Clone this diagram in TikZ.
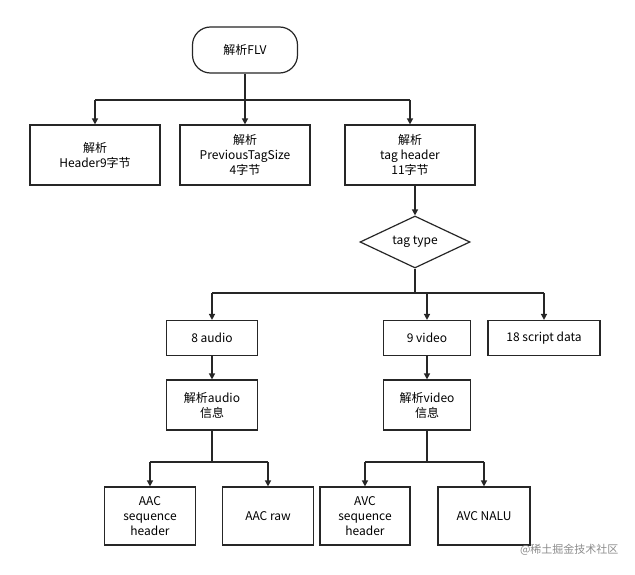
\documentclass[tikz,border=0pt]{standalone}
\usepackage{fontspec}
\setmainfont{Noto Sans CJK SC}
\usetikzlibrary{shapes.geometric,arrows.meta}
\begin{document}
\begin{tikzpicture}[x=1pt,y=-1pt,
  box/.style={draw=black!85,line width=1.2pt,fill=white,align=center,font=\fontsize{12}{15}\selectfont,inner sep=0pt},
  ln/.style={draw=black!85,line width=1.6pt},
  ar/.style={ln,-{Triangle[length=6pt,width=6pt]}}]
\useasboundingbox (0,0) rectangle (635,575);
\node[box,rounded corners=18pt,minimum width=105pt,minimum height=46pt] (flv) at (245,50) {解析FLV};
\node[box,minimum width=130pt,minimum height=60pt] (h) at (95,155) {解析\\Header9字节};
\node[box,minimum width=130pt,minimum height=60pt] (p) at (245,155) {解析\\PreviousTagSize\\4字节};
\node[box,minimum width=130pt,minimum height=60pt] (t) at (410,155) {解析\\tag header\\11字节};
\node[box,diamond,aspect=2.1,minimum width=110pt,minimum height=52pt] (d) at (415,242) {tag type};
\node[box,minimum width=91pt,minimum height=35pt] (a) at (212,338) {8 audio};
\node[box,minimum width=87pt,minimum height=35pt] (v) at (427,338) {9 video};
\node[box,minimum width=112pt,minimum height=35pt] (s) at (544,338) {18 script data};
\node[box,minimum width=91pt,minimum height=50pt] (ai) at (212,405) {解析audio\\信息};
\node[box,minimum width=87pt,minimum height=50pt] (vi) at (427,405) {解析video\\信息};
\node[box,minimum width=91pt,minimum height=58pt] (as) at (150,516) {AAC\\sequence\\header};
\node[box,minimum width=91pt,minimum height=58pt] (ar) at (268,516) {AAC raw};
\node[box,minimum width=90pt,minimum height=58pt] (vs) at (365,516) {AVC\\sequence\\header};
\node[box,minimum width=92pt,minimum height=58pt] (vn) at (484,516) {AVC NALU};
\node[text=black!45,font=\fontsize{11}{13}\selectfont,anchor=east] (wm) at (622,550) {@稀土掘金技术社区};
\coordinate (j1) at (245,100);
\coordinate (j2) at (415,293);
\coordinate (j3) at (212,462);
\coordinate (j4) at (427,462);
\draw[ln] (flv.south) -- (j1);
\draw[ln] (h.north|-j1) -- (t.north|-j1);
\draw[ar] (h.north|-j1) -- (h.north);
\draw[ar] (j1) -- (p.north);
\draw[ar] (t.north|-j1) -- (t.north);
\draw[ar] (t.south-|d.north) -- (d.north);
\draw[ln] (d.south) -- (j2);
\draw[ln] (a.north|-j2) -- (s.north|-j2);
\draw[ar] (a.north|-j2) -- (a.north);
\draw[ar] (v.north|-j2) -- (v.north);
\draw[ar] (s.north|-j2) -- (s.north);
\draw[ar] (a) -- (ai);
\draw[ar] (v) -- (vi);
\draw[ln] (ai.south) -- (j3);
\draw[ln] (as.north|-j3) -- (ar.north|-j3);
\draw[ar] (as.north|-j3) -- (as.north);
\draw[ar] (ar.north|-j3) -- (ar.north);
\draw[ln] (vi.south) -- (j4);
\draw[ln] (vs.north|-j4) -- (vn.north|-j4);
\draw[ar] (vs.north|-j4) -- (vs.north);
\draw[ar] (vn.north|-j4) -- (vn.north);
\end{tikzpicture}
\end{document}
